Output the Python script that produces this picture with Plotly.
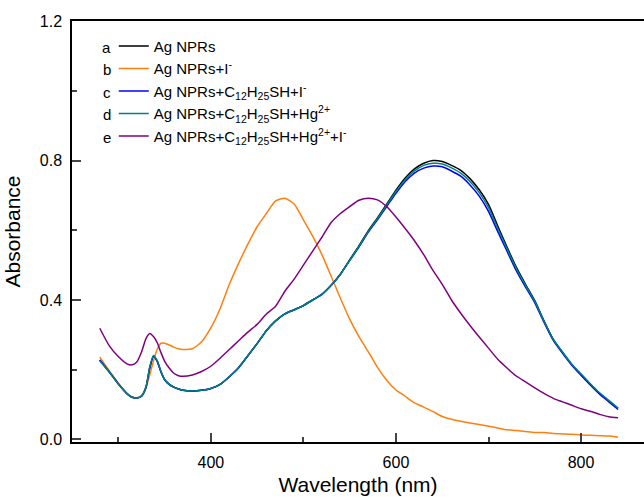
import plotly.graph_objects as go

wavelength = [280, 290, 300, 310, 315, 320, 325, 330, 334, 338, 342, 346, 350, 355, 360, 365, 370,
              380, 390, 400, 410, 420, 430, 440, 450, 460, 470, 480, 490, 500, 510, 520, 530, 540,
              550, 560, 570, 580, 590, 600, 610, 620, 630, 640, 650, 660, 670, 680, 690, 700, 710,
              720, 730, 740, 750, 760, 770, 780, 790, 800, 810, 820, 830, 840]

abs_a = [0.228, 0.195, 0.160, 0.130, 0.121, 0.119, 0.124, 0.150, 0.205, 0.239, 0.225, 0.195, 0.172,
         0.158, 0.150, 0.145, 0.141, 0.139, 0.141, 0.146, 0.158, 0.180, 0.206, 0.240, 0.275, 0.312,
         0.340, 0.360, 0.372, 0.384, 0.400, 0.416, 0.442, 0.474, 0.515, 0.555, 0.598, 0.635, 0.675,
         0.715, 0.750, 0.776, 0.792, 0.800, 0.797, 0.786, 0.772, 0.748, 0.716, 0.674, 0.612, 0.552,
         0.494, 0.445, 0.398, 0.340, 0.287, 0.250, 0.215, 0.186, 0.158, 0.132, 0.110, 0.089]

abs_b = [0.236, 0.198, 0.162, 0.130, 0.122, 0.120, 0.126, 0.150, 0.185, 0.225, 0.258, 0.276, 0.276,
         0.271, 0.265, 0.260, 0.258, 0.260, 0.280, 0.320, 0.375, 0.445, 0.505, 0.560, 0.610, 0.648,
         0.684, 0.692, 0.675, 0.630, 0.583, 0.530, 0.468, 0.405, 0.345, 0.295, 0.252, 0.207, 0.170,
         0.142, 0.124, 0.105, 0.093, 0.080, 0.066, 0.058, 0.052, 0.047, 0.043, 0.038, 0.033, 0.028,
         0.026, 0.023, 0.020, 0.020, 0.017, 0.016, 0.015, 0.013, 0.012, 0.011, 0.010, 0.007]

abs_c = [0.228, 0.195, 0.160, 0.130, 0.121, 0.119, 0.124, 0.150, 0.205, 0.239, 0.225, 0.195, 0.172,
         0.158, 0.150, 0.145, 0.141, 0.139, 0.141, 0.146, 0.158, 0.180, 0.206, 0.240, 0.275, 0.312,
         0.340, 0.360, 0.372, 0.384, 0.400, 0.416, 0.442, 0.474, 0.513, 0.552, 0.594, 0.630, 0.668,
         0.706, 0.740, 0.764, 0.778, 0.784, 0.782, 0.770, 0.755, 0.730, 0.698, 0.654, 0.596, 0.540,
         0.484, 0.437, 0.392, 0.336, 0.284, 0.247, 0.213, 0.184, 0.156, 0.130, 0.108, 0.086]

abs_d = [0.226, 0.194, 0.159, 0.130, 0.121, 0.119, 0.124, 0.152, 0.208, 0.241, 0.226, 0.196, 0.172,
         0.158, 0.150, 0.145, 0.141, 0.139, 0.141, 0.146, 0.158, 0.180, 0.206, 0.240, 0.275, 0.312,
         0.340, 0.360, 0.372, 0.384, 0.400, 0.416, 0.442, 0.474, 0.514, 0.554, 0.596, 0.633, 0.672,
         0.711, 0.745, 0.770, 0.786, 0.792, 0.790, 0.779, 0.764, 0.740, 0.708, 0.665, 0.605, 0.547,
         0.490, 0.442, 0.396, 0.339, 0.287, 0.250, 0.216, 0.188, 0.160, 0.134, 0.112, 0.090]

abs_e = [0.319, 0.270, 0.238, 0.216, 0.214, 0.222, 0.250, 0.290, 0.304, 0.295, 0.278, 0.250, 0.225,
         0.205, 0.190, 0.183, 0.181, 0.185, 0.195, 0.210, 0.233, 0.258, 0.283, 0.308, 0.330, 0.360,
         0.382, 0.425, 0.460, 0.500, 0.540, 0.580, 0.622, 0.648, 0.668, 0.686, 0.692, 0.687, 0.668,
         0.638, 0.605, 0.570, 0.530, 0.485, 0.445, 0.400, 0.362, 0.327, 0.294, 0.262, 0.230, 0.205,
         0.182, 0.165, 0.148, 0.132, 0.118, 0.108, 0.098, 0.088, 0.081, 0.072, 0.065, 0.062]

series_letters = ["a", "b", "c", "d", "e"]
series_names = [
    "Ag NPRs",
    "Ag NPRs+I<sup>-</sup>",
    "Ag NPRs+C<sub>12</sub>H<sub>25</sub>SH+I<sup>-</sup>",
    "Ag NPRs+C<sub>12</sub>H<sub>25</sub>SH+Hg<sup>2+</sup>",
    "Ag NPRs+C<sub>12</sub>H<sub>25</sub>SH+Hg<sup>2+</sup>+I<sup>-</sup>",
]
series_values = [abs_a, abs_b, abs_c, abs_d, abs_e]
series_colors = ["#000000", "#FF7F0E", "#0000FF", "#008080", "#800080"]

x_tickvals = [400, 600, 800]
y_tickvals = [0.0, 0.4, 0.8, 1.2]
y_ticktext = ["0.0", "0.4", "0.8", "1.2"]

FONT = "Liberation Sans, Arial, sans-serif"

fig = go.Figure()
for name, vals, col in zip(series_names, series_values, series_colors):
    fig.add_trace(go.Scatter(x=wavelength, y=vals, mode="lines", name=name,
                             line=dict(color=col, width=1.5, shape="spline", smoothing=0.6)))

letter_y = [0.938, 0.885, 0.831, 0.778, 0.724]
for letter, ly in zip(series_letters, letter_y):
    fig.add_annotation(text=letter, xref="paper", yref="paper", x=0.072, y=ly,
                       xanchor="right", yanchor="middle", showarrow=False,
                       font=dict(family=FONT, size=15, color="black"))

fig.update_layout(
    width=644, height=497,
    margin=dict(l=72, r=0, t=21, b=55, autoexpand=False),
    paper_bgcolor="white", plot_bgcolor="white",
    font=dict(family=FONT, size=16, color="black"),
    showlegend=True,
    legend=dict(x=0.073, y=0.979, xanchor="left", yanchor="top",
                bgcolor="rgba(0,0,0,0)", font=dict(family=FONT, size=15),
                tracegroupgap=0, itemwidth=30),
    xaxis=dict(range=[250, 868], tickvals=x_tickvals, ticks="inside", ticklen=9,
               tickwidth=1.5, linecolor="black", linewidth=1.5, showline=True, mirror=True,
               showgrid=False, zeroline=False, automargin=False, ticklabelstandoff=5,
               minor=dict(dtick=100, tick0=0, ticks="inside", ticklen=5, tickwidth=1.5),
               title=dict(text="Wavelength (nm)", font=dict(family=FONT, size=21), standoff=7),
               tickfont=dict(family=FONT, size=16)),
    yaxis=dict(range=[-0.0072, 1.2], tickvals=y_tickvals, ticktext=y_ticktext,
               ticks="inside", ticklen=9, tickwidth=1.5, linecolor="black", linewidth=1.5,
               showline=True, showgrid=False, zeroline=False, automargin=False, ticklabelstandoff=5,
               minor=dict(dtick=0.2, tick0=0, ticks="inside", ticklen=5, tickwidth=1.5),
               title=dict(text="Absorbance", font=dict(family=FONT, size=21), standoff=13),
               tickfont=dict(family=FONT, size=16)),
)

fig.write_html("out.html", config={"displayModeBar": False},
               post_script="document.body.style.margin='0';document.body.style.overflow='hidden';")
